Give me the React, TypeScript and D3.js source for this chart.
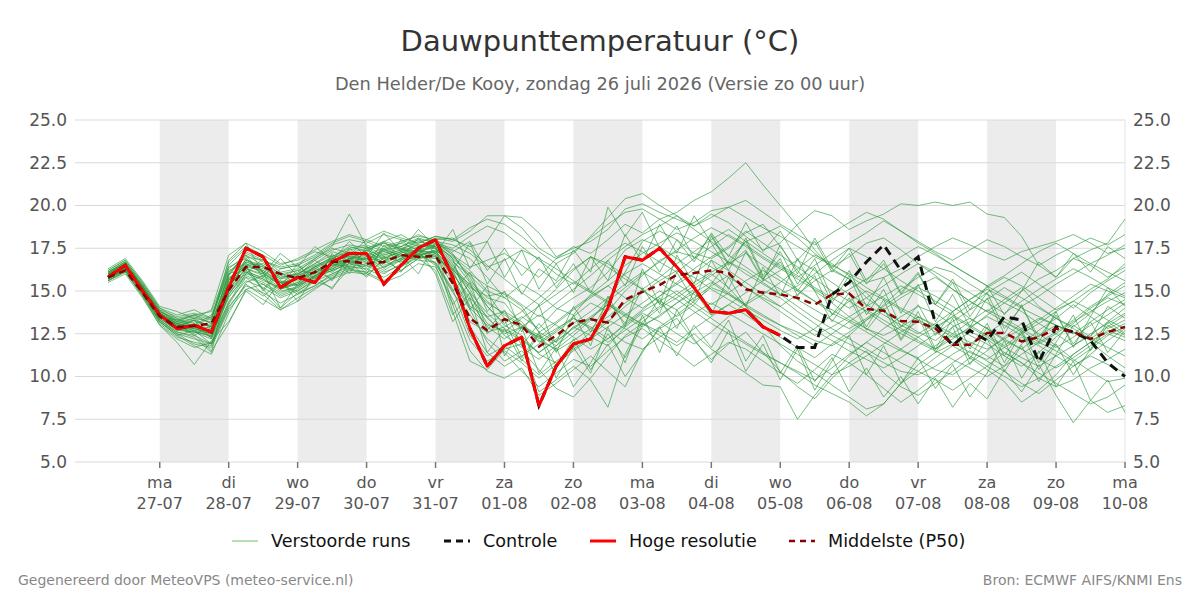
import React, { useEffect, useRef } from 'react';
import * as d3 from 'd3';

// 6-hourly steps, starting zondag 26-07 06:00
const START = new Date(2026, 6, 26, 6, 0);
const STEP_HOURS = 6;

const dayAbbrev = ['zo', 'ma', 'di', 'wo', 'do', 'vr', 'za'];
const yTicks = [5, 7.5, 10, 12.5, 15, 17.5, 20, 22.5, 25];

// Hoge resolutie (runs to 05-08 00:00)
const hres = [15.8, 16.5, 15.0, 13.6, 12.8, 13.0, 12.6, 15.2, 17.5, 17.0, 15.2, 15.8, 15.5, 16.7, 17.2, 17.2,
  15.4, 16.5, 17.5, 18.0, 15.8, 12.8, 10.6, 11.8, 12.3, 8.3, 10.6, 11.9, 12.2, 14.0, 17.0, 16.8, 17.5, 16.4,
  15.2, 13.8, 13.7, 13.9, 12.9, 12.4];

// Controle (same as hres until 05-08)
const controle = [15.8, 16.5, 15.0, 13.6, 12.8, 13.0, 12.6, 15.2, 17.5, 17.0, 15.2, 15.8, 15.5, 16.7, 17.2, 17.2,
  15.4, 16.5, 17.5, 18.0, 15.8, 12.8, 10.6, 11.8, 12.3, 8.3, 10.6, 11.9, 12.2, 14.0, 17.0, 16.8, 17.5, 16.4,
  15.2, 13.8, 13.7, 13.9, 12.9, 12.4, 11.7, 11.7, 14.8, 15.5, 16.7, 17.7, 16.2, 17.0, 13.1, 11.8, 12.7, 12.1,
  13.5, 13.3, 10.85, 12.9, 12.6, 12.1, 10.8, 10.0];

// Middelste (P50)
const p50 = [15.8, 16.2, 14.9, 13.5, 12.9, 12.95, 13.1, 15.05, 16.4, 16.4, 16.0, 15.75, 16.1, 16.7, 16.75, 16.6,
  16.7, 17.1, 17.0, 17.05, 15.45, 13.4, 12.7, 13.35, 13.0, 11.75, 12.4, 13.15, 13.35, 13.15, 14.5, 14.95, 15.35,
  15.95, 16.05, 16.2, 16.05, 15.1, 14.9, 14.8, 14.6, 14.2, 14.8, 14.85, 13.95, 13.85, 13.25, 13.2, 12.8, 11.85,
  11.85, 12.55, 12.55, 12.05, 12.3, 12.8, 12.6, 12.2, 12.6, 12.9];

// Verstoorde runs
const members = [
  [16.0, 16.6, 15.3, 13.7, 13.1, 13.3, 12.9, 15.6, 16.8, 16.5, 15.9, 16.2, 16.0, 16.9, 17.4, 17.6, 16.8, 17.2, 17.8, 18.2, 18.0, 17.6, 17.9, 19.4, 19.3, 18.4, 17.0, 17.5, 17.9, 18.6, 19.8, 20.1, 19.6, 19.2, 18.8, 19.5, 19.0, 18.2, 17.4, 17.8, 18.9, 19.7, 19.4, 18.6, 19.1, 19.5, 20.1, 20.0, 20.2, 20.0, 20.2, 19.5, 19.3, 18.2, 16.5, 15.8, 16.9, 17.4, 17.8, 19.2],
  [15.7, 16.3, 14.9, 13.3, 12.5, 12.2, 11.9, 14.8, 16.2, 15.1, 14.0, 14.9, 15.3, 16.0, 16.5, 16.9, 16.2, 16.8, 17.3, 17.6, 14.2, 11.5, 10.3, 9.9, 10.5, 8.9, 9.6, 10.4, 11.2, 10.3, 9.4, 11.5, 12.8, 13.4, 12.1, 11.0, 11.9, 12.6, 11.4, 10.3, 9.4, 8.7, 9.9, 10.8, 11.5, 10.2, 9.4, 8.9, 9.6, 10.3, 11.1, 10.4, 9.7, 8.5, 9.2, 10.1, 11.3, 12.0, 11.2, 10.5],
  [15.9, 16.5, 15.1, 13.6, 13.0, 12.8, 12.5, 15.3, 16.5, 16.6, 16.0, 15.8, 16.4, 16.9, 16.7, 16.5, 17.0, 17.3, 17.1, 17.3, 16.2, 14.1, 13.5, 13.8, 13.2, 12.0, 12.7, 13.5, 14.3, 13.8, 15.0, 15.9, 16.8, 17.3, 17.0, 16.4, 15.8, 15.2, 14.6, 14.1, 14.8, 15.6, 16.2, 15.7, 14.9, 13.8, 13.2, 12.6, 12.1, 12.9, 13.4, 12.8, 12.1, 11.6, 12.4, 13.0, 12.6, 12.2, 12.9, 13.6],
  [16.1, 16.7, 15.4, 13.9, 13.2, 13.6, 13.1, 15.9, 17.3, 16.8, 16.4, 16.6, 17.1, 17.8, 18.2, 17.9, 17.4, 17.8, 18.3, 17.9, 17.1, 16.4, 16.8, 17.2, 16.5, 15.8, 16.9, 17.6, 17.2, 18.0, 18.9, 18.4, 19.2, 19.6, 20.3, 20.8, 21.6, 22.5, 21.2, 20.0, 18.8, 17.4, 16.3, 15.7, 14.6, 13.9, 12.8, 12.3, 11.6, 12.4, 11.8, 11.2, 10.6, 11.9, 12.7, 13.4, 14.2, 13.5, 12.8, 13.3],
  [15.6, 16.2, 14.8, 13.2, 12.4, 11.8, 11.3, 13.7, 15.5, 15.9, 15.2, 15.4, 15.9, 16.3, 16.8, 17.2, 16.5, 16.9, 17.4, 17.1, 13.8, 10.9, 10.4, 11.6, 11.9, 9.1, 9.8, 10.6, 9.8, 8.2, 11.3, 13.2, 14.0, 14.6, 15.3, 16.0, 15.2, 14.1, 13.0, 11.8, 10.9, 10.2, 9.5, 8.8, 8.1, 8.4, 9.6, 10.7, 11.4, 11.9, 12.6, 12.2, 11.4, 10.8, 9.9, 9.4, 9.8, 10.5, 11.0, 11.6],
  [15.8, 16.4, 15.2, 13.5, 13.3, 13.6, 13.8, 16.4, 16.9, 16.1, 15.3, 15.0, 15.7, 16.4, 17.1, 18.0, 17.6, 17.9, 18.2, 18.0, 18.1, 17.4, 16.5, 15.7, 14.9, 14.2, 15.1, 16.2, 17.0, 16.6, 15.9, 15.1, 14.3, 13.5, 14.2, 15.4, 16.8, 17.9, 18.3, 18.8, 18.1, 17.2, 16.4, 17.0, 17.8, 18.1, 17.4, 16.6, 15.9, 15.1, 14.4, 13.8, 14.5, 15.2, 14.1, 13.4, 12.9, 13.7, 14.8, 15.5],
  [16.2, 16.8, 15.5, 14.0, 13.6, 13.9, 13.4, 16.8, 17.8, 17.3, 16.6, 16.8, 17.3, 17.0, 17.6, 17.3, 17.9, 18.3, 17.7, 17.5, 16.3, 15.1, 13.4, 12.5, 12.9, 12.1, 11.6, 12.4, 13.3, 14.5, 16.1, 17.9, 18.5, 18.0, 17.2, 16.9, 17.5, 18.4, 18.9, 17.6, 16.2, 15.0, 14.3, 13.5, 12.8, 12.2, 11.6, 11.0, 10.4, 10.1, 10.8, 11.5, 12.3, 13.1, 12.5, 11.8, 11.0, 10.3, 9.7, 9.9],
  [15.5, 16.0, 14.6, 13.0, 12.2, 11.7, 12.0, 14.2, 15.8, 14.8, 13.9, 14.4, 15.1, 15.8, 16.2, 16.1, 15.6, 16.2, 16.9, 17.0, 16.2, 15.4, 14.1, 13.0, 12.4, 11.3, 10.8, 11.7, 12.6, 13.3, 12.8, 12.2, 12.9, 13.6, 14.4, 15.2, 14.8, 14.1, 13.5, 13.0, 12.6, 12.1, 11.8, 12.4, 13.3, 14.2, 15.1, 15.8, 16.4, 16.1, 15.4, 14.8, 14.3, 15.0, 15.7, 16.2, 16.9, 16.5, 15.8, 16.4],
  [15.9, 16.5, 15.0, 13.4, 12.7, 12.9, 12.3, 15.0, 16.4, 16.2, 15.5, 16.0, 16.6, 17.3, 17.0, 16.8, 17.4, 17.6, 17.2, 17.7, 16.9, 16.0, 15.3, 14.8, 14.1, 12.6, 12.0, 12.9, 13.4, 14.2, 13.6, 13.1, 12.4, 11.8, 12.5, 11.6, 10.9, 10.2, 9.5, 9.4, 7.5, 8.9, 10.1, 11.2, 12.0, 12.8, 13.5, 14.1, 13.7, 13.0, 12.4, 11.9, 11.2, 10.6, 11.4, 12.3, 13.1, 14.0, 14.6, 14.2],
  [16.0, 16.6, 15.2, 13.7, 12.9, 12.6, 12.4, 14.6, 16.0, 15.7, 15.1, 15.5, 16.2, 16.6, 16.4, 16.6, 16.1, 16.5, 17.0, 16.9, 15.4, 13.2, 12.6, 12.9, 13.5, 12.8, 13.9, 14.6, 15.2, 16.1, 17.4, 18.0, 17.6, 16.9, 16.2, 15.6, 14.9, 14.2, 14.8, 15.5, 16.3, 17.1, 16.6, 15.9, 15.2, 14.6, 14.0, 13.5, 12.9, 12.3, 12.8, 13.6, 14.3, 13.8, 13.1, 12.5, 11.8, 12.4, 13.2, 14.0],
  [15.7, 16.3, 15.0, 13.5, 12.8, 12.5, 11.5, 13.1, 15.1, 15.4, 14.7, 15.1, 15.8, 16.2, 16.6, 17.0, 17.4, 17.1, 16.8, 16.7, 15.1, 12.4, 11.2, 11.8, 11.0, 10.1, 10.9, 11.6, 12.3, 11.8, 12.9, 13.7, 13.2, 12.5, 11.9, 12.6, 13.5, 14.3, 15.0, 14.6, 13.8, 13.1, 12.4, 11.9, 11.4, 10.8, 10.3, 10.1, 10.6, 11.3, 11.9, 12.5, 13.2, 12.7, 12.0, 11.5, 10.9, 11.6, 12.4, 12.9],
  [16.1, 16.6, 15.3, 13.8, 13.2, 13.4, 12.8, 16.1, 17.0, 16.8, 16.3, 16.5, 17.0, 17.7, 18.0, 17.8, 18.3, 18.0, 17.6, 18.1, 17.9, 18.5, 19.4, 19.4, 18.7, 17.5, 16.9, 17.3, 18.1, 18.9, 19.6, 19.8, 19.2, 18.6, 19.0, 19.7, 19.9, 19.3, 18.7, 18.2, 17.6, 17.0, 16.5, 16.0, 15.5, 15.8, 16.3, 17.0, 17.6, 18.1, 17.7, 17.2, 16.8, 17.3, 17.6, 17.9, 18.3, 17.8, 17.2, 17.5],
  [15.8, 16.4, 15.1, 13.6, 13.0, 12.9, 12.7, 15.5, 16.6, 16.2, 15.6, 15.3, 15.9, 16.5, 16.9, 17.1, 16.7, 17.2, 17.6, 17.9, 17.2, 15.6, 14.6, 14.3, 13.0, 12.4, 11.8, 12.9, 12.4, 13.2, 14.1, 14.9, 15.6, 16.2, 15.8, 15.1, 14.5, 13.9, 13.3, 12.7, 12.2, 12.8, 13.6, 14.4, 15.0, 14.5, 13.9, 13.3, 12.8, 13.5, 14.2, 14.9, 15.5, 16.1, 15.4, 14.7, 14.0, 14.9, 15.6, 16.2],
  [15.6, 16.1, 14.7, 13.1, 12.3, 12.0, 11.8, 14.1, 15.3, 14.9, 14.3, 14.8, 15.3, 15.9, 16.3, 16.5, 16.0, 16.6, 17.2, 16.6, 14.9, 13.6, 12.2, 11.4, 10.3, 9.4, 10.2, 11.0, 10.6, 11.5, 12.3, 12.8, 12.1, 11.4, 10.6, 11.3, 12.0, 11.6, 10.9, 10.2, 9.6, 10.4, 11.3, 10.8, 10.1, 9.3, 8.5, 9.2, 10.0, 10.8, 11.5, 10.9, 10.3, 9.6, 9.0, 9.8, 10.6, 11.2, 10.7, 10.2],
  [15.9, 16.5, 15.2, 13.6, 13.1, 13.4, 13.2, 16.5, 17.5, 16.9, 16.1, 16.3, 16.9, 17.5, 17.2, 17.5, 17.8, 17.4, 17.9, 17.6, 17.0, 16.2, 15.0, 14.6, 15.4, 14.8, 14.0, 13.6, 14.8, 15.6, 16.5, 17.2, 17.8, 18.4, 17.9, 17.3, 16.7, 16.0, 15.4, 14.8, 15.3, 16.0, 16.8, 17.5, 17.0, 16.3, 15.6, 15.0, 14.4, 13.8, 14.5, 15.2, 15.8, 15.3, 14.6, 13.9, 14.4, 15.1, 15.7, 16.6],
  [16.0, 16.6, 15.3, 13.8, 13.3, 13.1, 12.6, 15.8, 16.3, 15.9, 15.4, 15.9, 16.3, 16.1, 16.8, 17.4, 17.8, 17.5, 17.1, 17.4, 16.6, 14.8, 13.1, 12.6, 13.4, 14.1, 14.8, 15.5, 14.9, 14.3, 13.7, 13.0, 13.5, 14.3, 15.1, 15.9, 16.6, 17.2, 16.5, 15.8, 15.1, 14.4, 13.7, 13.2, 12.6, 12.0, 11.5, 11.1, 11.8, 12.5, 13.2, 13.9, 13.4, 12.8, 12.2, 11.7, 12.3, 13.0, 13.6, 14.3],
  [15.9, 16.5, 15.1, 13.5, 12.9, 13.0, 12.7, 15.6, 16.8, 16.4, 15.7, 16.1, 16.9, 17.6, 19.5, 17.6, 17.1, 17.4, 18.0, 17.5, 16.4, 15.2, 14.7, 14.9, 14.2, 13.5, 14.3, 15.1, 15.9, 16.8, 17.6, 18.3, 18.8, 19.4, 18.6, 17.9, 17.1, 16.4, 15.7, 15.1, 14.5, 13.9, 13.3, 12.8, 13.4, 14.1, 14.8, 15.3, 15.8, 15.1, 14.4, 13.8, 13.2, 12.6, 13.3, 14.0, 14.7, 15.4, 15.0, 14.6],
  [15.7, 16.2, 14.9, 13.3, 12.6, 12.4, 11.9, 14.4, 15.6, 15.2, 14.6, 15.0, 15.6, 16.0, 16.4, 16.3, 15.8, 16.4, 17.0, 17.1, 15.6, 13.9, 12.0, 10.9, 11.5, 10.4, 9.3, 8.8, 9.9, 11.2, 12.4, 13.1, 12.6, 12.0, 12.8, 13.5, 14.2, 13.6, 12.9, 12.3, 11.7, 11.1, 11.9, 12.6, 13.3, 13.9, 14.6, 15.2, 14.7, 14.1, 13.4, 12.8, 12.2, 11.6, 11.0, 10.5, 11.1, 11.8, 12.5, 12.1],
  [16.1, 16.7, 15.4, 13.9, 13.5, 13.7, 13.4, 16.2, 16.6, 16.0, 15.5, 15.7, 16.4, 17.0, 17.5, 17.7, 17.3, 17.6, 18.1, 17.8, 17.5, 18.2, 18.8, 18.4, 17.6, 16.8, 16.0, 15.4, 16.3, 17.1, 17.8, 17.3, 16.7, 16.1, 16.9, 17.6, 18.3, 17.7, 17.0, 16.4, 15.8, 16.5, 17.2, 17.8, 18.4, 19.1, 18.5, 17.8, 17.2, 16.5, 15.9, 15.3, 15.9, 16.6, 17.3, 17.8, 17.2, 16.6, 17.1, 17.7],
  [15.8, 16.3, 15.0, 13.5, 12.8, 12.6, 12.2, 14.8, 16.1, 15.8, 15.1, 15.4, 16.0, 16.6, 16.9, 17.0, 16.6, 17.1, 17.4, 17.2, 15.8, 14.0, 13.0, 12.7, 12.1, 11.4, 12.2, 13.1, 13.8, 14.6, 15.4, 16.1, 15.5, 14.8, 14.1, 13.4, 12.7, 12.0, 11.4, 10.8, 10.2, 9.5, 9.0, 8.5, 7.7, 8.4, 9.6, 10.3, 11.1, 11.8, 11.2, 10.6, 10.0, 9.4, 9.9, 10.6, 11.3, 12.0, 12.7, 12.3],
  [16.0, 16.5, 15.2, 13.6, 13.0, 13.2, 13.0, 15.9, 17.1, 16.5, 15.8, 16.0, 16.5, 16.9, 17.3, 17.1, 17.5, 17.8, 17.4, 17.7, 17.4, 16.9, 15.8, 14.6, 13.9, 12.6, 13.2, 14.0, 14.7, 15.3, 14.6, 14.0, 14.7, 15.5, 16.3, 17.0, 17.6, 18.5, 17.8, 17.1, 16.4, 15.7, 15.0, 14.4, 13.8, 13.1, 12.5, 12.0, 11.5, 11.0, 10.5, 10.0, 10.6, 11.3, 12.0, 12.6, 13.3, 14.1, 14.7, 15.3],
  [15.9, 16.4, 15.1, 13.6, 12.9, 12.7, 12.3, 15.1, 16.3, 16.0, 15.4, 15.7, 16.1, 16.6, 16.3, 16.1, 16.4, 16.9, 17.4, 17.5, 16.7, 15.9, 14.9, 13.4, 12.8, 12.3, 11.5, 12.1, 12.8, 13.5, 14.3, 15.0, 14.4, 13.9, 14.6, 15.3, 15.9, 15.2, 14.5, 13.8, 13.1, 12.4, 12.9, 13.5, 14.1, 14.7, 15.3, 14.8, 14.2, 13.6, 13.0, 12.4, 11.8, 12.5, 13.1, 13.8, 14.4, 13.9, 13.3, 12.8],
  [16.2, 16.8, 15.5, 14.0, 13.4, 13.6, 13.3, 16.7, 17.6, 17.1, 16.5, 16.9, 17.4, 17.9, 18.3, 18.0, 18.5, 18.1, 17.8, 18.2, 18.0, 18.7, 19.2, 18.9, 18.2, 17.3, 16.6, 17.2, 18.2, 19.3, 20.4, 20.7, 20.0, 19.4, 18.8, 19.3, 19.9, 20.3, 19.6, 18.9, 18.3, 17.7, 18.4, 19.0, 19.6, 19.2, 18.5, 17.9, 17.3, 16.8, 17.4, 18.0, 17.6, 17.0, 16.5, 17.1, 17.6, 18.1, 17.7, 18.3],
  [15.7, 16.3, 15.0, 13.4, 12.7, 12.6, 12.4, 14.9, 15.9, 15.5, 14.9, 15.3, 15.8, 16.2, 16.6, 16.4, 16.9, 17.3, 16.9, 17.2, 16.0, 14.6, 13.5, 12.4, 11.7, 11.0, 11.8, 12.6, 13.4, 12.7, 12.0, 11.6, 12.3, 13.0, 13.7, 14.3, 13.7, 13.1, 12.5, 11.9, 11.3, 10.7, 10.1, 10.6, 11.2, 11.9, 12.6, 13.2, 12.6, 12.0, 11.4, 11.0, 11.7, 12.3, 11.8, 11.2, 10.6, 11.3, 12.1, 12.8],
  [16.0, 16.6, 15.2, 13.7, 13.1, 12.8, 12.5, 15.2, 16.7, 16.4, 15.8, 16.0, 16.6, 17.1, 16.8, 16.9, 17.3, 17.0, 17.5, 17.8, 17.1, 15.8, 14.1, 13.1, 13.8, 14.6, 15.5, 16.3, 17.0, 16.4, 15.7, 15.1, 15.8, 16.6, 17.3, 18.0, 18.6, 17.9, 17.2, 16.5, 15.9, 15.2, 14.6, 14.0, 14.6, 15.3, 16.0, 16.6, 16.1, 15.5, 14.9, 14.3, 13.7, 14.4, 15.1, 15.7, 16.3, 15.8, 15.2, 14.7],
  [15.8, 16.4, 15.0, 13.5, 12.9, 13.3, 12.9, 15.4, 16.2, 15.7, 15.0, 15.2, 15.9, 16.4, 16.9, 17.4, 17.0, 16.7, 17.1, 17.3, 15.9, 12.9, 11.4, 10.6, 11.2, 11.9, 12.6, 13.4, 12.9, 12.2, 13.0, 13.8, 14.4, 15.0, 14.3, 13.6, 14.2, 14.9, 15.6, 16.2, 16.8, 16.2, 15.5, 14.8, 14.2, 13.6, 13.0, 12.5, 13.1, 13.8, 14.5, 15.1, 14.6, 14.0, 13.5, 13.0, 12.5, 13.2, 13.9, 14.5],
  [15.6, 16.1, 14.8, 13.2, 12.5, 11.9, 11.7, 13.9, 15.1, 14.5, 13.9, 14.6, 15.2, 15.7, 16.1, 16.0, 15.5, 15.9, 16.6, 16.4, 14.5, 12.1, 10.9, 11.5, 10.8, 9.9, 10.7, 11.5, 12.2, 12.9, 13.6, 14.3, 15.0, 14.5, 13.8, 13.1, 12.5, 11.9, 11.3, 10.8, 10.3, 9.8, 10.5, 11.3, 12.0, 11.4, 10.8, 10.3, 9.8, 9.2, 9.9, 10.6, 11.4, 10.8, 10.2, 9.6, 9.0, 8.4, 8.8, 9.5],
  [16.1, 16.7, 15.3, 13.8, 13.3, 13.5, 13.1, 16.0, 17.2, 16.7, 16.0, 16.2, 16.8, 17.4, 17.7, 17.5, 17.9, 17.6, 18.0, 17.9, 17.7, 17.2, 16.4, 16.8, 17.4, 16.9, 16.3, 15.6, 15.0, 14.4, 15.2, 16.0, 16.7, 17.4, 18.1, 18.7, 18.2, 17.6, 16.9, 16.3, 15.7, 15.1, 14.5, 15.1, 15.7, 16.3, 17.0, 17.6, 17.1, 16.5, 15.9, 15.3, 14.7, 14.1, 14.7, 15.4, 16.0, 16.6, 16.1, 15.6],
  [15.9, 16.4, 15.1, 13.6, 13.0, 12.7, 12.5, 15.3, 16.5, 16.1, 15.5, 15.6, 16.3, 16.8, 17.1, 16.8, 17.2, 17.5, 17.0, 17.4, 16.5, 15.3, 14.3, 13.7, 13.0, 12.2, 12.8, 13.4, 12.8, 12.0, 12.7, 13.4, 14.1, 14.8, 15.5, 16.1, 16.7, 16.2, 15.5, 14.8, 14.1, 13.4, 12.8, 12.2, 11.6, 11.0, 11.6, 12.3, 12.9, 13.5, 12.9, 12.3, 11.7, 11.1, 10.6, 11.2, 11.8, 12.5, 13.1, 13.7],
  [15.8, 16.4, 15.1, 13.6, 12.9, 12.8, 12.6, 15.0, 16.1, 15.6, 15.2, 15.5, 16.1, 16.5, 16.7, 16.7, 17.1, 17.4, 17.3, 17.0, 16.1, 14.4, 12.9, 12.2, 12.9, 13.6, 13.0, 12.3, 11.6, 12.2, 13.1, 13.9, 14.7, 15.4, 16.0, 16.8, 16.2, 15.5, 14.8, 14.1, 13.4, 12.7, 12.1, 11.5, 11.0, 10.5, 11.1, 11.8, 12.5, 13.2, 13.9, 14.5, 15.2, 14.6, 14.0, 13.4, 12.8, 12.2, 11.7, 11.2],
  [15.9, 16.5, 15.2, 13.7, 13.1, 13.0, 12.8, 15.7, 16.7, 16.3, 15.7, 15.9, 16.4, 16.8, 17.0, 17.2, 16.9, 17.3, 17.7, 17.6, 16.8, 15.5, 14.4, 13.6, 12.9, 12.3, 13.1, 13.9, 14.6, 15.3, 16.0, 16.6, 16.0, 15.4, 14.8, 14.2, 14.9, 15.6, 16.2, 15.6, 15.0, 14.4, 13.9, 13.3, 12.8, 12.4, 12.9, 13.5, 13.0, 12.5, 12.0, 11.6, 12.2, 12.8, 13.4, 13.0, 12.6, 12.1, 12.6, 13.1],
  [15.8, 16.3, 15.0, 13.4, 12.8, 12.9, 12.6, 14.7, 15.8, 15.4, 14.8, 15.2, 15.9, 16.3, 16.7, 16.9, 16.4, 16.8, 17.3, 17.3, 16.3, 14.9, 13.7, 12.8, 12.2, 11.4, 12.1, 12.8, 13.5, 14.2, 13.5, 12.9, 13.6, 14.3, 14.9, 15.5, 14.8, 14.2, 13.6, 13.0, 12.4, 11.8, 12.5, 13.2, 13.9, 13.3, 12.7, 12.1, 11.6, 12.2, 12.9, 13.5, 13.0, 12.4, 11.9, 12.5, 13.2, 13.8, 14.4, 14.9],
  [15.9, 16.6, 15.2, 13.8, 13.4, 12.9, 13.5, 16.3, 17.1, 15.8, 16.9, 15.9, 16.8, 16.2, 17.5, 16.6, 17.9, 16.9, 18.1, 17.2, 18.6, 16.3, 17.9, 15.8, 17.4, 15.1, 16.6, 14.9, 17.0, 15.6, 18.3, 16.7, 18.9, 17.2, 19.4, 17.8, 16.2, 18.1, 15.9, 17.3, 15.4, 16.9, 14.6, 16.2, 14.1, 15.8, 13.7, 15.4, 13.2, 14.8, 12.9, 14.6, 12.5, 14.2, 12.0, 13.8, 11.7, 13.5, 15.2, 14.1],
  [15.6, 16.2, 14.7, 13.0, 12.0, 10.7, 12.1, 13.2, 15.0, 14.2, 15.6, 14.4, 15.9, 15.1, 16.7, 15.8, 17.0, 16.1, 17.4, 16.0, 13.2, 14.6, 11.4, 12.8, 10.9, 12.5, 9.9, 11.7, 10.2, 12.9, 10.8, 13.6, 11.4, 13.9, 12.2, 10.8, 12.7, 10.3, 11.9, 9.8, 11.6, 9.2, 10.9, 12.4, 10.1, 11.8, 9.6, 11.1, 9.3, 10.7, 8.8, 10.2, 12.1, 9.9, 11.5, 9.4, 10.9, 8.6, 9.8, 7.9],
  [16.3, 16.9, 15.6, 14.1, 13.8, 13.4, 13.9, 17.1, 17.8, 16.0, 17.2, 16.4, 17.6, 16.8, 17.9, 17.0, 18.4, 17.3, 18.6, 17.6, 16.2, 17.8, 15.4, 16.9, 14.8, 16.3, 15.6, 17.4, 16.1, 19.9, 18.2, 19.6, 17.5, 18.8, 16.9, 18.3, 16.6, 17.9, 15.8, 16.7, 15.0, 16.4, 14.3, 15.9, 13.6, 15.1, 12.9, 14.2, 12.4, 13.8, 11.6, 13.1, 11.2, 12.7, 10.8, 12.0, 13.6, 11.5, 13.0, 12.4],
  [15.8, 16.3, 14.9, 13.3, 12.6, 12.3, 11.4, 15.7, 16.5, 15.0, 16.1, 15.3, 16.2, 15.7, 16.9, 16.2, 17.5, 16.6, 17.2, 16.5, 14.2, 15.5, 12.7, 13.9, 11.8, 13.1, 12.0, 14.1, 12.6, 14.4, 13.1, 15.2, 13.7, 16.1, 14.4, 16.8, 15.1, 17.3, 15.6, 17.7, 16.0, 18.1, 16.3, 17.5, 15.6, 16.8, 14.9, 16.1, 14.2, 15.5, 13.5, 14.9, 12.8, 14.1, 12.3, 13.6, 11.9, 13.2, 11.4, 12.7],
  [16.0, 16.5, 15.1, 13.5, 12.9, 13.3, 12.2, 14.3, 16.0, 16.9, 15.2, 16.6, 15.4, 17.2, 16.0, 17.6, 16.3, 17.1, 16.0, 17.8, 16.9, 13.9, 15.3, 11.2, 12.9, 10.2, 11.7, 9.4, 10.8, 12.5, 11.1, 13.0, 14.6, 12.8, 15.0, 13.6, 15.8, 14.1, 16.4, 14.7, 16.9, 15.0, 13.2, 14.6, 12.7, 14.0, 12.1, 13.5, 11.4, 12.9, 10.7, 12.2, 10.3, 11.8, 9.7, 11.3, 13.0, 12.3, 14.1, 13.4],
  [15.7, 16.4, 15.0, 13.6, 13.1, 12.4, 13.0, 15.0, 16.9, 16.1, 14.0, 15.4, 16.5, 15.6, 17.0, 16.0, 17.7, 16.8, 17.5, 16.6, 15.0, 16.1, 13.8, 15.0, 12.6, 14.2, 11.4, 13.6, 11.8, 14.7, 12.9, 16.3, 14.2, 17.1, 15.4, 18.2, 16.5, 17.4, 15.7, 16.9, 14.7, 15.9, 13.6, 14.9, 12.9, 14.5, 12.2, 13.8, 11.6, 13.4, 11.0, 12.9, 10.8, 12.6, 10.4, 11.9, 10.1, 11.6, 13.2, 12.5],
  [15.8, 16.2, 14.8, 13.2, 12.4, 12.7, 11.9, 14.0, 15.4, 14.7, 15.5, 14.8, 15.6, 15.2, 16.3, 15.9, 16.8, 16.2, 16.9, 16.2, 13.6, 14.9, 12.5, 13.3, 11.1, 12.6, 10.6, 12.2, 10.4, 11.9, 10.0, 11.4, 12.9, 11.2, 13.0, 11.7, 13.3, 10.9, 12.4, 10.2, 11.8, 9.7, 11.1, 9.1, 10.5, 8.8, 10.0, 8.4, 9.9, 8.2, 9.6, 8.7, 10.4, 9.1, 10.7, 8.9, 7.3, 8.6, 7.9, 8.3],
  [16.1, 16.6, 15.3, 13.7, 13.2, 13.0, 13.6, 16.0, 16.4, 15.1, 16.3, 16.5, 15.7, 17.0, 16.4, 17.4, 16.6, 18.0, 17.1, 18.0, 17.3, 17.9, 16.2, 17.5, 15.9, 17.0, 15.2, 16.6, 14.9, 16.8, 15.3, 17.6, 16.1, 18.0, 16.7, 18.4, 17.0, 19.0, 17.3, 18.5, 16.8, 17.9, 16.1, 17.2, 15.4, 16.6, 14.8, 16.0, 14.2, 15.7, 13.9, 15.3, 13.6, 15.0, 16.7, 15.8, 17.2, 16.1, 17.6, 16.9],
];

const legendItems = [
  { label: 'Verstoorde runs', color: '#5cb85c', width: 1, dash: null, opacity: 0.9 },
  { label: 'Controle', color: '#111111', width: 3, dash: '7,5', opacity: 1 },
  { label: 'Hoge resolutie', color: '#ff0000', width: 3, dash: null, opacity: 1 },
  { label: 'Middelste (P50)', color: '#8b0000', width: 2.5, dash: '6,5', opacity: 1 },
];

const W = 1200;
const H = 600;
const margin = { top: 120, right: 75, bottom: 138, left: 75 };
const FONT = 'DejaVu Sans, sans-serif';

const timeAt = (i: number) => d3.timeHour.offset(START, i * STEP_HOURS);

const App = () => {
  const ref = useRef<SVGSVGElement>(null);

  useEffect(() => {
    const svg = d3.select(ref.current);
    svg.selectAll('*').remove();

    const x = d3.scaleTime()
      .domain([new Date(2026, 6, 25, 18, 30), new Date(2026, 7, 10, 0, 0)])
      .range([margin.left, W - margin.right]);
    const y = d3.scaleLinear()
      .domain([5, 25])
      .range([H - margin.bottom, margin.top]);

    const days = d3.timeDay.range(new Date(2026, 6, 27), new Date(2026, 7, 10, 1));

    // alternate day shading
    svg.append('g')
      .selectAll('rect')
      .data(days.filter((d, i) => i % 2 === 0 && i < days.length - 1))
      .enter().append('rect')
      .attr('x', d => x(d))
      .attr('y', margin.top)
      .attr('width', d => x(d3.timeDay.offset(d, 1)) - x(d))
      .attr('height', H - margin.bottom - margin.top)
      .attr('fill', '#ececec');

    // grid
    svg.append('g')
      .selectAll('line')
      .data(yTicks)
      .enter().append('line')
      .attr('x1', margin.left)
      .attr('x2', W - margin.right)
      .attr('y1', d => y(d))
      .attr('y2', d => y(d))
      .attr('stroke', '#d9d9d9')
      .attr('stroke-width', 1);
    svg.append('line')
      .attr('x1', W - margin.right).attr('x2', W - margin.right)
      .attr('y1', margin.top).attr('y2', H - margin.bottom)
      .attr('stroke', '#e3e3e3');

    const line = d3.line<number>()
      .x((d, i) => x(timeAt(i)))
      .y(d => y(d));

    svg.append('g')
      .selectAll('path')
      .data(members)
      .enter().append('path')
      .attr('d', d => line(d))
      .attr('fill', 'none')
      .attr('stroke', '#2e9a3e')
      .attr('stroke-opacity', 0.65)
      .attr('stroke-width', 1);

    svg.append('path')
      .attr('d', line(controle))
      .attr('fill', 'none')
      .attr('stroke', '#111')
      .attr('stroke-width', 3)
      .attr('stroke-dasharray', '9,6');

    svg.append('path')
      .attr('d', line(hres))
      .attr('fill', 'none')
      .attr('stroke', '#ff0000')
      .attr('stroke-width', 3)
      .attr('stroke-linejoin', 'round');

    svg.append('path')
      .attr('d', line(p50))
      .attr('fill', 'none')
      .attr('stroke', '#8b0000')
      .attr('stroke-width', 2.5)
      .attr('stroke-dasharray', '7,5');

    // y axes labels
    const yl = svg.append('g').attr('font-family', FONT).attr('font-size', 17).attr('fill', '#555');
    yl.selectAll('text.l')
      .data(yTicks)
      .enter().append('text')
      .attr('class', 'l')
      .attr('x', margin.left - 8)
      .attr('y', d => y(d))
      .attr('dy', '0.35em')
      .attr('text-anchor', 'end')
      .text(d => d3.format('.1f')(d));
    yl.selectAll('text.r')
      .data(yTicks)
      .enter().append('text')
      .attr('class', 'r')
      .attr('x', W - margin.right + 8)
      .attr('y', d => y(d))
      .attr('dy', '0.35em')
      .attr('text-anchor', 'start')
      .text(d => d3.format('.1f')(d));

    // x ticks
    const xg = svg.append('g').attr('font-family', FONT).attr('font-size', 16).attr('fill', '#555');
    const base = H - margin.bottom;
    xg.selectAll('line')
      .data(days)
      .enter().append('line')
      .attr('x1', d => x(d)).attr('x2', d => x(d))
      .attr('y1', base).attr('y2', base + 6)
      .attr('stroke', '#777').attr('stroke-width', 1.5);
    xg.selectAll('text.day')
      .data(days)
      .enter().append('text')
      .attr('class', 'day')
      .attr('x', d => x(d))
      .attr('y', base + 26)
      .attr('text-anchor', 'middle')
      .text(d => dayAbbrev[d.getDay()]);
    xg.selectAll('text.date')
      .data(days)
      .enter().append('text')
      .attr('class', 'date')
      .attr('x', d => x(d))
      .attr('y', base + 47)
      .attr('text-anchor', 'middle')
      .text(d => d3.timeFormat('%d-%m')(d));

    // titles
    svg.append('text')
      .attr('x', W / 2).attr('y', 51)
      .attr('text-anchor', 'middle')
      .attr('font-family', FONT).attr('font-size', 29).attr('fill', '#333')
      .text('Dauwpunttemperatuur (°C)');
    svg.append('text')
      .attr('x', W / 2).attr('y', 90)
      .attr('text-anchor', 'middle')
      .attr('font-family', FONT).attr('font-size', 17.8).attr('fill', '#666')
      .text('Den Helder/De Kooy, zondag 26 juli 2026 (Versie zo 00 uur)');

    // legend
    const legendX = [232, 444, 590, 789];
    const lg = svg.append('g').attr('font-family', FONT).attr('font-size', 17.6).attr('fill', '#111');
    legendItems.forEach((item, i) => {
      lg.append('line')
        .attr('x1', legendX[i]).attr('x2', legendX[i] + 26)
        .attr('y1', 541).attr('y2', 541)
        .attr('stroke', item.color)
        .attr('stroke-width', item.width)
        .attr('stroke-opacity', item.opacity)
        .attr('stroke-dasharray', item.dash);
      lg.append('text')
        .attr('x', legendX[i] + 39).attr('y', 541)
        .attr('dy', '0.35em')
        .text(item.label);
    });

    // footer
    svg.append('text')
      .attr('x', 18).attr('y', 585)
      .attr('font-family', FONT).attr('font-size', 14).attr('fill', '#888')
      .text('Gegenereerd door MeteoVPS (meteo-service.nl)');
    svg.append('text')
      .attr('x', 1182).attr('y', 585)
      .attr('text-anchor', 'end')
      .attr('font-family', FONT).attr('font-size', 14).attr('fill', '#888')
      .text('Bron: ECMWF AIFS/KNMI Ens');
  }, []);

  return (
    <svg ref={ref} width={W} height={H}
      style={{ position: 'absolute', left: 0, top: 0, background: '#fff' }} />
  );
};

export default App;
